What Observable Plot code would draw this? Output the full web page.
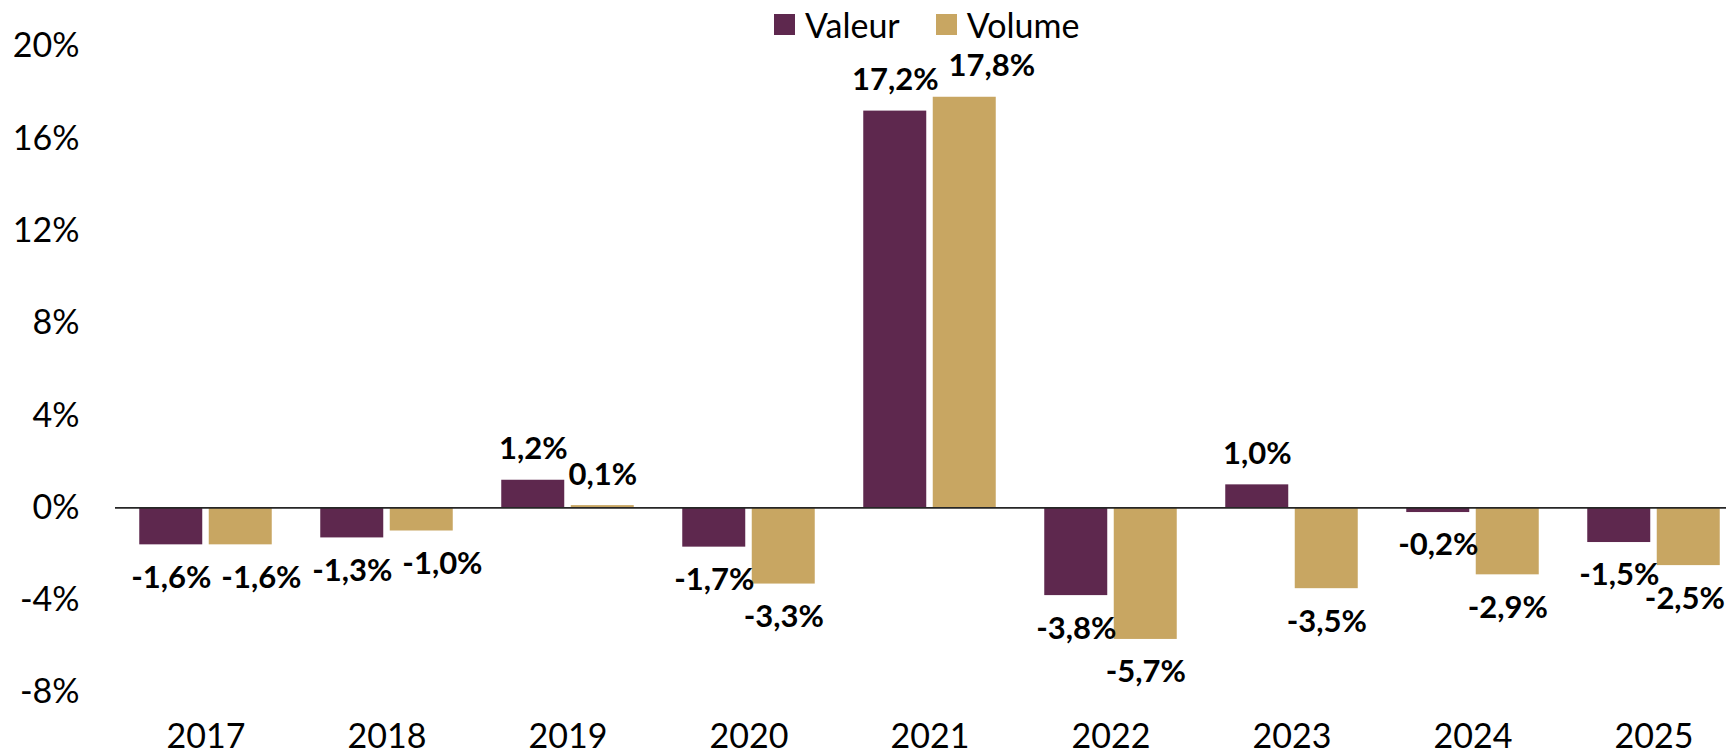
<!DOCTYPE html>
<html><head><meta charset="utf-8">
<script src="https://cdn.jsdelivr.net/npm/d3@7"></script>
<script src="https://cdn.jsdelivr.net/npm/@observablehq/plot@0.6"></script>
<style>
html, body { margin:0; padding:0; background:#fff; overflow:hidden; }
#wrap { position: relative; width: 1726px; height: 756px; overflow: hidden; }
#legend { position:absolute; left: 774px; top: 4px; }
#legend > div { font-family: Lato, sans-serif; font-size: 34px; color: #000; margin:0; }
#legend svg { margin-right: 10px; }
#legend span { margin-right: 36px; }
.ch text { font-family: Lato, sans-serif; }
.ch [aria-label^="y-axis"] text, .ch [aria-label^="fx-axis"] text { font-size: 34px; fill: #000; }
</style></head>
<body><div id="wrap"><div id="chart"></div><div id="legend"></div></div>
<script>
const years = ["2017", "2018", "2019", "2020", "2021", "2022", "2023", "2024", "2025"];
const valeur = [-1.6, -1.3, 1.2, -1.7, 17.2, -3.8, 1.0, -0.2, -1.5];
const volume = [-1.6, -1.0, 0.1, -3.3, 17.8, -5.7, -3.5, -2.9, -2.5];
const series = ["Valeur", "Volume"];
const colors = ["#5E284E", "#C8A662"];
const yTicks = [-8, -4, 0, 4, 8, 12, 16, 20];

const data = years.flatMap((y, i) => [
  {year: y, serie: series[0], value: valeur[i]},
  {year: y, serie: series[1], value: volume[i]}
]);
const fmt = v => v.toFixed(1).replace(".", ",") + "%";
const labelSize = 31;

const chart = Plot.plot({
  width: 1744, height: 756,
  marginLeft: 115, marginRight: 0, marginTop: 46, marginBottom: 64,
  className: "ch",
  style: {maxWidth: "none", background: "#fff"},
  fx: {domain: years, padding: 0, axis: "bottom", tickSize: 0, tickPadding: 31, label: null},
  x: {domain: series, paddingInner: 0.0935, paddingOuter: 0.349, axis: null, round: false},
  y: {domain: [-8, 20], ticks: yTicks, tickFormat: d => d + "%", tickSize: 0, tickPadding: 36, label: null},
  color: {domain: series, range: colors},
  marks: [
    Plot.barY(data, {fx: "year", x: "serie", y: "value", fill: "serie"}),
    Plot.ruleY([0], {stroke: "#262626", strokeWidth: 1.75}),
    Plot.text(data.filter(d => d.value >= 0), {fx: "year", x: "serie", y: "value", text: d => fmt(d.value), dy: -31, fontSize: labelSize, fontWeight: "bold", fill: "#000"}),
    Plot.text(data.filter(d => d.value < 0), {fx: "year", x: "serie", y: "value", text: d => fmt(d.value), dy: 33, fontSize: labelSize, fontWeight: "bold", fill: "#000"})
  ]
});
document.getElementById("chart").append(chart);

// Nudge overlapping data labels apart (as the spreadsheet does), right-hand one moves right
const capH = 0.72 * labelSize;
const nudge = (el, dx) => {
  const t = el.getAttribute("transform") || "";
  el.setAttribute("transform", (t + ` translate(${dx},0)`).trim());
};
const boxes = [...chart.querySelectorAll('g[aria-label="text"] text')]
  .map(el => ({el, r: el.getBoundingClientRect()}))
  .sort((a, b) => a.r.left - b.r.left);
for (let i = 1; i < boxes.length; i++) {
  const a = boxes[i - 1], b = boxes[i];
  const ox = a.r.right - b.r.left;
  const cy = Math.abs((a.r.top + a.r.bottom) / 2 - (b.r.top + b.r.bottom) / 2);
  if (ox > -6 && cy < capH) {
    nudge(b.el, ox + 10);
    b.r = b.el.getBoundingClientRect();
  }
}
// keep labels inside the visible page
const pageW = document.getElementById("wrap").getBoundingClientRect().right;
for (const b of boxes) {
  const over = b.r.right - (pageW - 1);
  if (over > 0) nudge(b.el, -over);
}

const leg = Plot.legend({color: {domain: series, range: colors}, swatchSize: 21});
document.getElementById("legend").append(leg);
</script>
</body></html>
